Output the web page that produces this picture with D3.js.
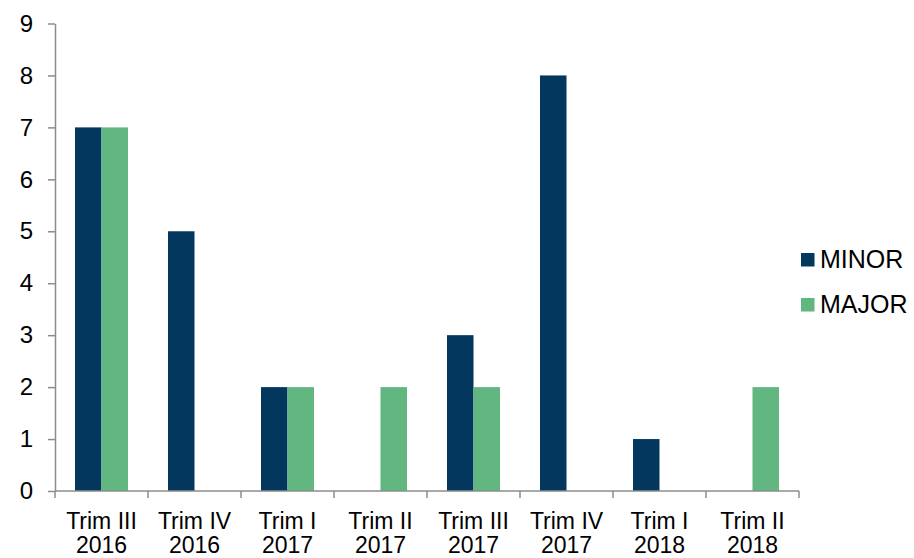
<!DOCTYPE html>
<html lang="en">

<head>
    <meta charset="UTF-8">
    <title>Minor / Major per trimester</title>
    <script src="https://cdn.jsdelivr.net/npm/d3@7"></script>
    <style>
        body { margin: 0; background: #fff; }
        text { font-family: "Liberation Sans", Arial, sans-serif; fill: #000; }
    </style>
</head>

<body>
    <div id="my_dataviz"></div>

    <script>
        // data
        var periods = ["Trim III|2016", "Trim IV|2016", "Trim I|2017", "Trim II|2017",
            "Trim III|2017", "Trim IV|2017", "Trim I|2018", "Trim II|2018"];
        var minor = [7, 5, 2, 0, 3, 8, 1, 0];
        var major = [7, 0, 2, 2, 2, 0, 0, 2];
        var seriesNames = ["MINOR", "MAJOR"];
        var seriesColors = ["#04375e", "#62b67f"];
        var yTicks = [0, 1, 2, 3, 4, 5, 6, 7, 8, 9];

        var W = 914, H = 558;
        var margin = { left: 55, right: 799, top: 23.5, bottom: 491 };

        var svg = d3.select("#my_dataviz")
            .append("svg")
            .attr("width", W)
            .attr("height", H);

        var x = d3.scaleBand()
            .domain(periods)
            .range([margin.left, margin.right])
            .paddingInner(0.43)
            .paddingOuter(0.215);

        var xs = d3.scaleBand()
            .domain(seriesNames)
            .range([0, x.bandwidth()]);

        var y = d3.scaleLinear()
            .domain([0, 9])
            .range([margin.bottom, margin.top]);

        var rows = periods.map(function (p, i) {
            return { period: p, values: [minor[i], major[i]] };
        });

        // bars
        var groups = svg.selectAll(".grp")
            .data(rows)
            .enter()
            .append("g")
            .attr("transform", function (d) { return "translate(" + x(d.period) + ",0)"; });

        groups.selectAll("rect")
            .data(function (d) {
                return d.values.map(function (v, j) { return { s: seriesNames[j], v: v, c: seriesColors[j] }; });
            })
            .enter()
            .filter(function (d) { return d.v > 0; })
            .append("rect")
            .attr("x", function (d) { return xs(d.s); })
            .attr("y", function (d) { return y(d.v); })
            .attr("width", xs.bandwidth())
            .attr("height", function (d) { return y(0) - y(d.v); })
            .attr("fill", function (d) { return d.c; });

        // Y axis
        var yAxis = svg.append("g")
            .attr("transform", "translate(" + margin.left + ",0)")
            .call(d3.axisLeft(y).tickValues(yTicks).tickSize(7).tickSizeOuter(0).tickPadding(15).tickFormat(d3.format("d")));
        yAxis.selectAll("path,line").attr("stroke", "#8c8c8c").attr("stroke-width", 1.5);
        yAxis.selectAll("text").style("font-size", "24px");

        // X axis, ticks at the band edges
        var edges = periods.map(function (p) { return x(p) - x.step() * x.paddingInner() / 2; });
        edges.push(margin.right);
        var xAxis = svg.append("g");
        xAxis.append("line")
            .attr("x1", margin.left).attr("x2", margin.right)
            .attr("y1", margin.bottom).attr("y2", margin.bottom)
            .attr("stroke", "#8c8c8c").attr("stroke-width", 1.5);
        xAxis.selectAll(".tk")
            .data(edges)
            .enter()
            .append("line")
            .attr("x1", function (d) { return d; })
            .attr("x2", function (d) { return d; })
            .attr("y1", margin.bottom)
            .attr("y2", margin.bottom + 7)
            .attr("stroke", "#8c8c8c").attr("stroke-width", 1.5);

        var labels = xAxis.selectAll(".lbl")
            .data(periods)
            .enter()
            .append("text")
            .attr("text-anchor", "middle")
            .style("font-size", "23px")
            .attr("transform", function (d) { return "translate(" + (x(d) + x.bandwidth() / 2) + "," + (margin.bottom + 38) + ")"; });
        labels.append("tspan")
            .attr("x", 0).attr("y", 0)
            .text(function (d) { return d.split("|")[0]; });
        labels.append("tspan")
            .attr("x", 0).attr("y", 23.5)
            .text(function (d) { return d.split("|")[1]; });

        // legend
        var legend = svg.selectAll(".leg")
            .data(seriesNames)
            .enter()
            .append("g")
            .attr("transform", function (d, i) { return "translate(801," + (253 + i * 45) + ")"; });
        legend.append("rect")
            .attr("width", 13.5).attr("height", 13.5)
            .attr("fill", function (d, i) { return seriesColors[i]; });
        legend.append("text")
            .attr("x", 19).attr("y", 15)
            .style("font-size", "25px")
            .text(function (d) { return d; });
    </script>
</body>

</html>
